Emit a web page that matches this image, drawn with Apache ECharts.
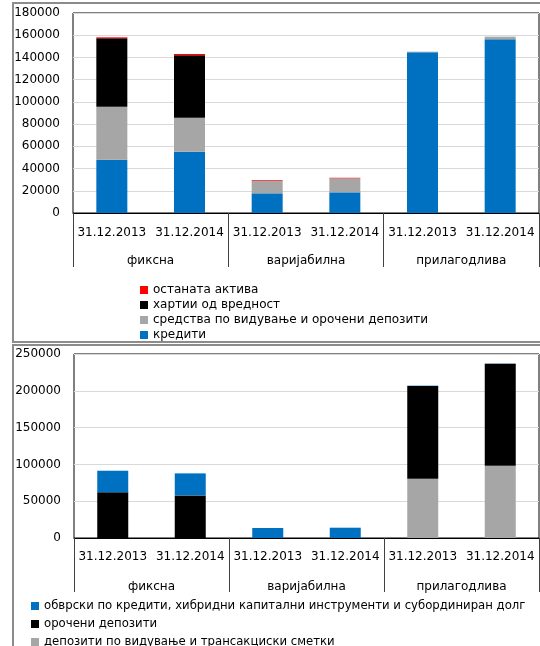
<!DOCTYPE html>
<html>
<head>
<meta charset="utf-8">
<script src="https://cdn.jsdelivr.net/npm/echarts@6/dist/echarts.min.js"></script>
<style>
  html, body { margin: 0; padding: 0; background: #fff; }
  #main { width: 540px; height: 646px; }
</style>
</head>
<body>
<div id="main"></div>
<script>
// categories
const dates = ['31.12.2013', '31.12.2014', '31.12.2013', '31.12.2014', '31.12.2013', '31.12.2014']
const groups = ['фиксна', 'варијабилна', 'прилагодлива']

// top chart: assets
const krediti = [48000, 55200, 17700, 18600, 144600, 156300]
const sredstva = [47700, 30600, 11400, 12600, 600, 2400]
const hartii = [61500, 56100, 0, 0, 0, 0]
const ostanata = [900, 1200, 600, 500, 0, 0]

// bottom chart: liabilities
const depoziti = [0, 0, 0, 0, 80600, 98200]
const orocheni = [62000, 57900, 0, 0, 125900, 138600]
const obvrski = [29400, 29900, 13600, 14000, 500, 300]

const topTicks = { min: 0, max: 180000, interval: 20000 }
const bottomTicks = { min: 0, max: 250000, interval: 50000 }

var chartDom = document.getElementById('main');
var myChart = echarts.init(chartDom);
var option;

const font = { fontFamily: 'DejaVu Sans', fontSize: 12, color: '#000' }

function dateAxis(grid, margin) {
  return {
    type: 'category',
    gridIndex: grid,
    data: dates,
    axisLine: { lineStyle: { color: '#000', width: 1 } },
    axisTick: { show: false },
    axisLabel: Object.assign({ margin: margin, interval: 0 }, font)
  }
}

function groupAxis(grid, margin) {
  return {
    type: 'category',
    gridIndex: grid,
    position: 'bottom',
    data: groups,
    axisLine: { show: false },
    //group separators
    axisTick: { show: true, length: 54, lineStyle: { color: '#404040' } },
    axisLabel: Object.assign({ margin: margin, interval: 0 }, font)
  }
}

function valueAxis(grid, ticks) {
  return {
    type: 'value',
    gridIndex: grid,
    min: ticks.min,
    max: ticks.max,
    interval: ticks.interval,
    axisLine: { show: false },
    axisTick: { show: false },
    axisLabel: Object.assign({ margin: 13, formatter: v => String(v) }, font),
    splitLine: { lineStyle: { color: '#d9d9d9' } }
  }
}

function bar(name, data, color, x, y) {
  return {
    name: name,
    type: 'bar',
    stack: 's' + x,
    xAxisIndex: x,
    yAxisIndex: y,
    barWidth: 31,
    data: data,
    itemStyle: { color: color }
  }
}

option = {
  animation: false,
  backgroundColor: '#fff',
  grid: [
    { left: 73, top: 13, right: 1, height: 200, show: true, borderColor: '#000', borderWidth: 1 },
    { left: 74, top: 354, right: 1, height: 184, show: true, borderColor: '#000', borderWidth: 1 }
  ],
  xAxis: [dateAxis(0, 14), groupAxis(0, 42), dateAxis(1, 13), groupAxis(1, 43)],
  yAxis: [valueAxis(0, topTicks), valueAxis(1, bottomTicks)],
  legend: [
    {
      orient: 'vertical',
      left: 140,
      top: 283,
      height: 70,
      padding: 0,
      itemGap: 1,
      itemWidth: 8,
      itemHeight: 8,
      icon: 'rect',
      textStyle: Object.assign({ lineHeight: 14 }, font),
      data: ['останата актива', 'хартии од вредност', 'средства по видување и орочени депозити', 'кредити']
    },
    {
      orient: 'vertical',
      left: 31,
      top: 599,
      height: 60,
      padding: 0,
      itemGap: 4,
      itemWidth: 8,
      itemHeight: 8,
      icon: 'rect',
      textStyle: Object.assign({}, font, { fontSize: 11.7, lineHeight: 14 }),
      data: ['обврски по кредити, хибридни капитални инструменти и субординиран долг', 'орочени депозити', 'депозити по видување и трансакциски сметки']
    }
  ],
  //outer frames
  graphic: [
    { type: 'rect', shape: { x: 13, y: 3, width: 540, height: 339 }, style: { fill: 'none', stroke: '#8c8c8c', lineWidth: 2 } },
    { type: 'rect', shape: { x: 13, y: 345, width: 540, height: 320 }, style: { fill: 'none', stroke: '#8c8c8c', lineWidth: 2 } }
  ],
  series: [
    bar('кредити', krediti, '#0070c0', 0, 0),
    bar('средства по видување и орочени депозити', sredstva, '#a6a6a6', 0, 0),
    bar('хартии од вредност', hartii, '#000000', 0, 0),
    bar('останата актива', ostanata, '#ff0000', 0, 0),
    bar('депозити по видување и трансакциски сметки', depoziti, '#a6a6a6', 2, 1),
    bar('орочени депозити', orocheni, '#000000', 2, 1),
    bar('обврски по кредити, хибридни капитални инструменти и субординиран долг', obvrski, '#0070c0', 2, 1)
  ]
};

option && myChart.setOption(option);
</script>
</body>
</html>
